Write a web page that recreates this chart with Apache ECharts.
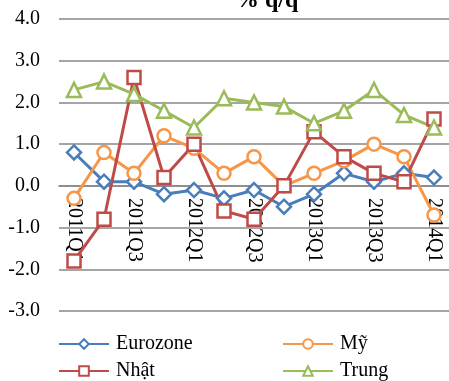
<!DOCTYPE html>
<html>
<head>
<meta charset="utf-8">
<script src="https://cdn.jsdelivr.net/npm/echarts@6/dist/echarts.min.js"></script>
<style>
  html, body { margin: 0; padding: 0; background: #fff; }
  #chart { width: 449px; height: 381px; }
</style>
</head>
<body>
<div id="chart"></div>
<script>
var quarters = ['2011Q1', '2011Q2', '2011Q3', '2011Q4', '2012Q1', '2012Q2', '2012Q3', '2012Q4', '2013Q1', '2013Q2', '2013Q3', '2013Q4', '2014Q1']
var eurozone = [0.8, 0.1, 0.1, -0.2, -0.1, -0.3, -0.1, -0.5, -0.2, 0.3, 0.1, 0.3, 0.2]
var my = [-0.3, 0.8, 0.3, 1.2, 0.9, 0.3, 0.7, 0.0, 0.3, 0.6, 1.0, 0.7, -0.7]
var nhat = [-1.8, -0.8, 2.6, 0.2, 1.0, -0.6, -0.8, 0.0, 1.3, 0.7, 0.3, 0.1, 1.6]
var trung = [2.3, 2.5, 2.2, 1.8, 1.4, 2.1, 2.0, 1.9, 1.5, 1.8, 2.3, 1.7, 1.4]

var font = '"Liberation Serif", "Times New Roman", serif'

function makeSeries(name, data, color, symbol, size) {
  return {
    name: name,
    type: 'line',
    data: data,
    symbol: symbol,
    symbolSize: size,
    showAllSymbol: true,
    lineStyle: { color: color, width: 3 },
    itemStyle: { color: '#fff', borderColor: color, borderWidth: 2.5 },
    emphasis: { disabled: true },
    z: 3
  }
}

function makeLegend(name, left, top) {
  return {
    data: [name],
    left: left,
    top: top,
    itemWidth: 50,
    itemHeight: 12,
    itemGap: 0,
    textStyle: { fontFamily: font, fontSize: 20, color: '#000', padding: [0, 0, 0, 2] }
  }
}

var chart = echarts.init(document.getElementById('chart'))
chart.setOption({
  animation: false,
  title: {
    text: '% q/q',
    left: 230,
    top: -16,
    textStyle: { fontFamily: font, fontSize: 24, fontWeight: 'bold', color: '#000' }
  },
  legend: [
    makeLegend('Eurozone', 53, 329),
    makeLegend('Mỹ', 277, 329),
    makeLegend('Nhật', 53, 356),
    makeLegend('Trung', 277, 356)
  ],
  grid: { left: 59, right: 0, top: 19, bottom: 70 },
  xAxis: {
    type: 'category',
    data: quarters,
    boundaryGap: true,
    // axis sits on the 0.0 line, 3 steps above the bottom
    offset: -125,
    axisLine: { onZero: false, lineStyle: { color: '#878787', width: 1.5 } },
    axisTick: { show: false },
    axisLabel: {
      interval: 1,
      rotate: -90,
      margin: 12,
      fontFamily: font,
      fontSize: 20,
      color: '#000'
    }
  },
  yAxis: {
    type: 'value',
    min: -3,
    max: 4,
    interval: 1,
    axisLine: { show: false },
    axisTick: { show: false },
    splitLine: { lineStyle: { color: '#878787', width: 1.5 } },
    axisLabel: {
      margin: 19,
      fontFamily: font,
      fontSize: 20,
      color: '#000',
      formatter: function (v) { return v.toFixed(1) }
    }
  },
  series: [
    makeSeries('Eurozone', eurozone, '#4a7ebb', 'diamond', 14),
    makeSeries('Mỹ', my, '#f79646', 'circle', 13),
    makeSeries('Nhật', nhat, '#be4b48', 'rect', 13),
    makeSeries('Trung', trung, '#9bbb59', 'triangle', 14)
  ]
})
</script>
</body>
</html>
